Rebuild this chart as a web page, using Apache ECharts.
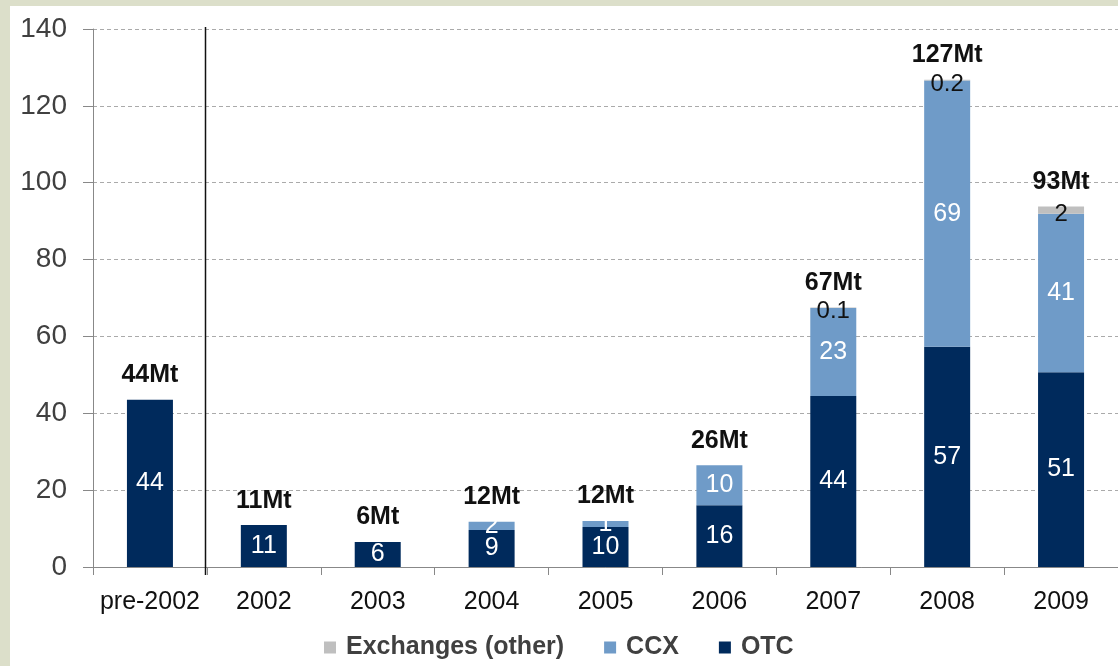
<!DOCTYPE html>
<html>
<head>
<meta charset="utf-8">
<script src="https://cdn.jsdelivr.net/npm/echarts@6/dist/echarts.min.js"></script>
<style>
  html, body { margin: 0; padding: 0; background: #dcdfca; width: 1118px; height: 666px; overflow: hidden; }
  #chart { position: absolute; left: 10px; top: 6px; width: 1108px; height: 660px; background: #fff; }
</style>
</head>
<body>
<div id="chart"></div>
<script>
var chart = echarts.init(document.getElementById('chart'));

var categories = ['pre-2002', '2002', '2003', '2004', '2005', '2006', '2007', '2008', '2009'];
var otc = [43.5, 10.9, 6.5, 9.6, 10.4, 16.1, 44.5, 57.3, 50.7];
var ccx = [0, 0, 0, 2.2, 1.6, 10.4, 22.9, 69.3, 41.2];
var exchanges = [0, 0, 0, 0, 0, 0, 0.1, 0.2, 1.9];
var otcLabels = ['44', '11', '6', '9', '10', '16', '44', '57', '51'];
var ccxLabels = ['', '', '', '2', '1', '10', '23', '69', '41'];
var exchLabels = ['', '', '', '', '', '', '0.1', '0.2', '2'];
var totals = ['44Mt', '11Mt', '6Mt', '12Mt', '12Mt', '26Mt', '67Mt', '127Mt', '93Mt'];
var zeros = [0, 0, 0, 0, 0, 0, 0, 0, 0];

var font = 'Liberation Sans, Arial, sans-serif';

var option = {
    animation: false,
    textStyle: { fontFamily: font },
    grid: { left: 83, width: 1028, top: 23, bottom: 99 },
    legend: {
        data: ['Exchanges (other)', 'CCX', 'OTC'],
        left: 309,
        top: 624,
        icon: 'rect',
        itemWidth: 12,
        itemHeight: 12,
        itemGap: 40,
        textStyle: { fontFamily: font, fontSize: 25, fontWeight: 'bold', color: '#404040', padding: [0, 0, 0, 5] }
    },
    xAxis: {
        type: 'category',
        data: categories,
        axisLine: { lineStyle: { color: '#888', width: 1 } },
        axisTick: { show: true, interval: 0, length: 8, lineStyle: { color: '#888' } },
        axisLabel: { interval: 0, fontFamily: font, fontSize: 25, color: '#111', margin: 23 }
    },
    yAxis: {
        type: 'value',
        min: 0,
        max: 140,
        interval: 20,
        axisLine: { show: true, lineStyle: { color: '#888', width: 1 } },
        axisTick: { show: true, length: 10, lineStyle: { color: '#888' } },
        axisLabel: { fontFamily: font, fontSize: 28, color: '#404040', margin: 26 },
        splitLine: { lineStyle: { color: '#aaa', type: [4, 3], width: 1 } }
    },
    series: [
        {
            name: 'OTC',
            type: 'bar',
            stack: 'all',
            barWidth: 46,
            data: otc,
            itemStyle: { color: '#002a5c' },
            label: {
                show: true,
                position: 'inside',
                fontFamily: font,
                fontSize: 25,
                color: '#fff',
                formatter: function (p) { return otcLabels[p.dataIndex]; }
            }
        },
        {
            name: 'CCX',
            type: 'bar',
            stack: 'all',
            data: ccx,
            itemStyle: { color: '#6f9bc8' },
            label: {
                show: true,
                position: 'inside',
                fontFamily: font,
                fontSize: 25,
                color: '#fff',
                formatter: function (p) { return ccxLabels[p.dataIndex]; }
            }
        },
        {
            name: 'Exchanges (other)',
            type: 'bar',
            stack: 'all',
            data: exchanges,
            itemStyle: { color: '#bfbfbf' },
            label: {
                show: true,
                position: 'inside',
                offset: [0, 4],
                fontFamily: font,
                fontSize: 24,
                color: '#111',
                formatter: function (p) { return exchLabels[p.dataIndex]; }
            }
        },
        {
            name: 'Total',
            type: 'bar',
            stack: 'all',
            data: zeros,
            itemStyle: { color: 'rgba(0,0,0,0)' },
            label: {
                show: true,
                position: 'top',
                distance: 12,
                fontFamily: font,
                fontSize: 25,
                fontWeight: 'bold',
                color: '#111',
                formatter: function (p) { return totals[p.dataIndex]; }
            }
        }
    ]
};

chart.setOption(option);

// vertical divider between pre-2002 and 2002
var x0 = chart.convertToPixel({ xAxisIndex: 0 }, categories[0]);
var x1 = chart.convertToPixel({ xAxisIndex: 0 }, categories[1]);
var xd = Math.round((x0 + x1) / 2) - 1.5;
var yTop = chart.convertToPixel({ yAxisIndex: 0 }, 140);
var yBot = chart.convertToPixel({ yAxisIndex: 0 }, 0);
chart.setOption({
    graphic: [{
        type: 'line',
        shape: { x1: xd, y1: yTop - 2, x2: xd, y2: yBot + 8 },
        style: { stroke: '#111', lineWidth: 1.5 },
        z: 10
    }]
});
</script>
</body>
</html>
